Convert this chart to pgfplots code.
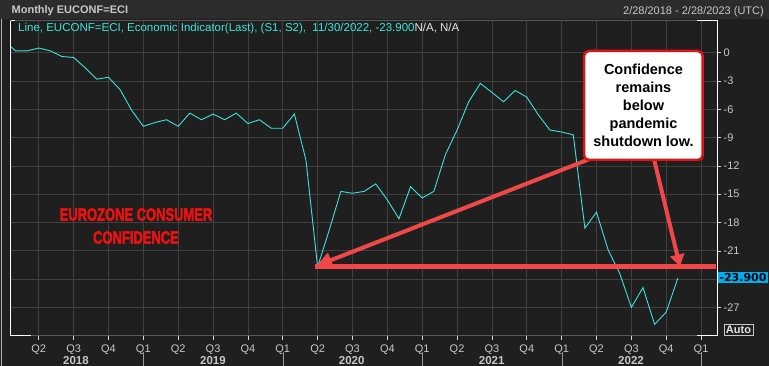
\documentclass[border=0pt]{standalone}
\usepackage{fontspec}
\setmainfont{Liberation Sans}
\newfontfamily\dejavu{DejaVu Sans}
\newfontfamily\heavy[BoldFeatures={FakeBold=2.5}]{Liberation Sans}
\usepackage{pgfplots}
\pgfplotsset{compat=1.18}
\usetikzlibrary{arrows.meta}
\definecolor{bgc}{RGB}{31,31,31}
\definecolor{hdr}{RGB}{44,44,44}
\definecolor{gridc}{RGB}{64,64,64}
\definecolor{linec}{RGB}{64,226,218}
\definecolor{arrowc}{RGB}{240,72,72}
\definecolor{redtxt}{RGB}{240,16,16}
\definecolor{lab}{RGB}{200,200,200}
\definecolor{boxred}{RGB}{220,20,20}
\begin{document}
\begin{tikzpicture}
\useasboundingbox (0,0) rectangle (769pt,366pt);
\fill[bgc] (0,0) rectangle (769pt,366pt);
\begin{scope}[x=1pt,y=-1pt,yshift=366pt]
  \fill[hdr] (0,0) rectangle (769,19);
  \draw[gray!60, line width=0.8pt] (1.5,19) -- (1.5,366);
  \node[anchor=base west, inner sep=0pt, font=\bfseries\fontsize{11}{13}\selectfont, text=lab] at (11.5,14) {Monthly EUCONF=ECI};
  \node[anchor=base east, inner sep=0pt, font=\fontsize{11}{13}\selectfont, text=lab] at (764,15) {2/28/2018 - 2/28/2023 (UTC)};
\end{scope}
\begin{axis}[
  at={(10.5pt,30.3pt)}, anchor=south west, scale only axis,
  width=706.5pt, height=315pt,
  xmin=0.57, xmax=61.37, ymin=-30, ymax=3.4,
  axis background/.style={fill=bgc},
  axis line style={draw=gray!70!black},
  xtick={3,6,...,60},
  xticklabels={Q2,Q3,Q4,Q1,Q2,Q3,Q4,Q1,Q2,Q3,Q4,Q1,Q2,Q3,Q4,Q1,Q2,Q3,Q4,Q1},
  ytick={-27,-24,...,0},
  yticklabels={-27,,-21,-18,-15,-12,-9,-6,-3,0},
  xtick pos=left, ytick pos=right, yticklabel pos=right,
  tick align=outside, major tick length=4pt,
  tick style={draw=white!85!black, line width=0.6pt},
  grid=major, grid style={draw=gridc, line width=0.7pt},
  xticklabel style={anchor=north, inner sep=0pt, yshift=-5pt, font=\fontsize{11}{13}\selectfont, text=lab},
  yticklabel style={anchor=west, inner sep=0pt, xshift=2.5pt, font=\fontsize{11}{13}\selectfont, text=lab},
]
\addplot[linec, line width=0.9pt] coordinates {
(0,1.3) (1,0.2) (2,0.2) (3,0.5) (4,0.2) (5,-0.4) (6,-0.5) (7,-1.6) (8,-2.8) (9,-2.6)
(10,-3.9) (11,-6.1) (12,-7.8) (13,-7.4) (14,-7.1) (15,-7.8) (16,-6.4) (17,-7.1) (18,-6.5) (19,-7.1)
(20,-6.4) (21,-7.5) (22,-7.1) (23,-8.0) (24,-8.0) (25,-6.5) (26,-11.4) (27,-22.7) (28,-18.8) (29,-14.7)
(30,-14.9) (31,-14.7) (32,-13.9) (33,-15.6) (34,-17.6) (35,-14.2) (36,-15.4) (37,-14.7) (38,-10.8) (39,-8.2)
(40,-5.2) (41,-3.25) (42,-4.2) (43,-5.2) (44,-4.0) (45,-4.7) (46,-6.6) (47,-8.2) (48,-8.4) (49,-8.7)
(50,-18.6) (51,-16.9) (52,-20.9) (53,-23.4) (54,-27.0) (55,-24.9) (56,-28.8) (57,-27.5) (58,-23.9)
};
\end{axis}
\begin{scope}[x=1pt,y=-1pt,yshift=366pt]
  % frame accents
  \draw[white, line width=1pt] (10.5,20.7) -- (10.5,335.7) -- (31,335.7);
  \draw[white, line width=1pt] (10.5,20.7) -- (15,20.7);
  \draw[white, line width=1pt] (697,20.7) -- (717,20.7) -- (717,335.7) -- (697,335.7);
  % legend text
  \node[anchor=base west, inner sep=0pt, font=\fontsize{11.5}{13}\selectfont] at (18,32)
    {\textcolor{linec}{Line, EUCONF=ECI, Economic Indicator(Last), (S1, S2),\ \ 11/30/2022, -23.900}\textcolor{white!90!black}{N/A, N/A}};
  % year labels
  \foreach \xx/\yy in {76/2018,213/2019,351.7/2020,491.7/2021,631/2022}
    \node[anchor=base, inner sep=0pt, font=\bfseries\fontsize{11.5}{13}\selectfont, text=lab] at (\xx,364.5) {\yy};
  \foreach \xx in {143.3,283,422.3,562.7,701}
    \draw[gray!80, line width=0.8pt] (\xx,352) -- (\xx,366);
  % last value box
  \fill[cyan] (718,271.7) rectangle (768,282.7);
  \node[anchor=center, inner sep=0pt, font=\dejavu\bfseries\fontsize{11}{13}\selectfont, text=black] at (743,277.2) {-23.900};
  % Auto box
  \draw[lab, line width=0.8pt] (724,324) rectangle (753,335.5);
  \node[anchor=center, inner sep=0pt, font=\bfseries\fontsize{11}{13}\selectfont, text=white!90!black] at (738.5,329.8) {Auto};
  % red title text
  \node[anchor=center, inner sep=0pt, align=center, text=redtxt, font=\heavy\bfseries\fontsize{18}{23}\selectfont, xscale=0.72] at (136,226) {EUROZONE CONSUMER\\CONFIDENCE};
  % arrows
  \draw[arrowc, line width=5pt] (315,266.7) -- (716,266.7);
  \draw[arrowc, line width=4pt, -{Triangle[length=16pt,width=15pt]}] (600,155) -- (316,266);
  \draw[arrowc, line width=4pt, -{Triangle[length=12pt,width=14pt]}] (653,155) -- (680,266.5);
  % callout box
  \draw[boxred, fill=white, line width=2.5pt, rounded corners=5pt] (584,51) rectangle (702.7,160);
  \node[anchor=center, align=center, inner sep=0pt, font=\bfseries\fontsize{14.5}{18}\selectfont, text=black] at (643.5,105.5)
    {Confidence\\remains\\below\\pandemic\\shutdown low.};
\end{scope}
\end{tikzpicture}
\end{document}
